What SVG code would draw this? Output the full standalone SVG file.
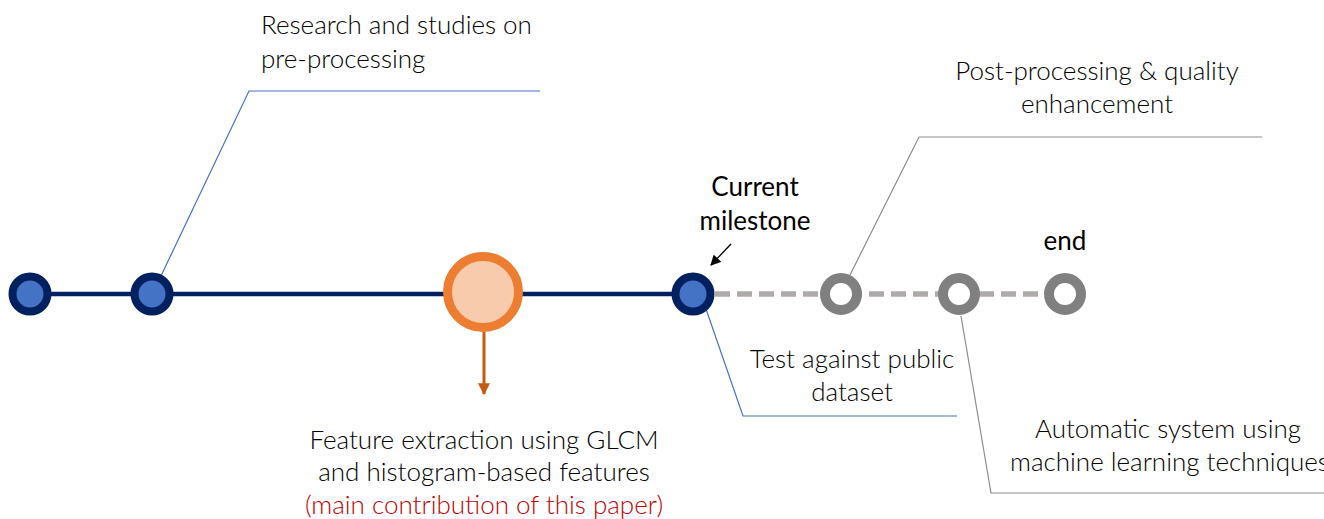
<svg xmlns="http://www.w3.org/2000/svg" width="1324" height="519" viewBox="0 0 1324 519">
<style>
text{font-family:Lato,"Open Sans","Liberation Sans",sans-serif;font-size:26px;fill:#000;font-weight:300}
.reg{font-weight:400;fill:#000}
.c{text-anchor:middle}
.red{fill:#C00000}
.done{fill:#4472C4;stroke:#002060;stroke-width:8}
.todo{fill:#fff;stroke:#808080;stroke-width:10}
.blue{fill:none;stroke:#4472C4;stroke-width:1.2}
.gray{fill:none;stroke:#8C8C8C;stroke-width:1.2}
</style>
<defs>
<marker id="ah" viewBox="0 0 10 10" refX="9" refY="5" markerWidth="4" markerHeight="4" orient="auto" markerUnits="strokeWidth"><path d="M0,0L10,5L0,10z" fill="#C55A11"/></marker>
<marker id="bk" viewBox="0 0 10 10" refX="9" refY="5" markerWidth="8" markerHeight="8" orient="auto" markerUnits="strokeWidth"><path d="M0,0L10,5L0,10z" fill="#000"/></marker>
</defs>
<g id="connectors">
<line x1="30" y1="294" x2="693" y2="294" stroke="#002060" stroke-width="4.5"/>
<line x1="693" y1="294" x2="1065" y2="294" stroke="#AEAAAA" stroke-width="5.5" stroke-dasharray="15 7"/>
<polyline class="blue" points="160,278 249,91 540,91"/>
<polyline class="gray" points="850,275 919,137 1262,137"/>
<polyline class="blue" points="706,309 743,416 957,416"/>
<polyline class="gray" points="961,316 991,493 1324,493"/>
<line x1="484" y1="332" x2="484" y2="394" stroke="#C55A11" stroke-width="3" marker-end="url(#ah)"/>
<line x1="731" y1="244" x2="711" y2="265" stroke="#000" stroke-width="1.3" marker-end="url(#bk)"/>
</g>
<g id="n1"><circle class="done" cx="30" cy="294" r="17.5"/></g>
<g id="n2"><circle class="done" cx="152" cy="294" r="17.5"/>
<text x="261" y="34">Research and studies on</text><text x="261" y="68">pre-processing</text></g>
<g id="n3"><circle cx="483" cy="292" r="35.5" fill="#F8CBAD" stroke="#ED7D31" stroke-width="9"/>
<text class="c" x="484" y="449">Feature extraction using GLCM</text>
<text class="c" x="484" y="481">and histogram-based features</text>
<text class="c red" x="484" y="514">(main contribution of this paper)</text></g>
<g id="n4"><circle class="done" cx="693" cy="294" r="17.5"/>
<text class="c reg" x="755" y="196">Current</text><text class="c reg" x="755" y="230">milestone</text>
<text class="c" x="852" y="368">Test against public</text><text class="c" x="852" y="401">dataset</text></g>
<g id="n5"><circle class="todo" cx="841" cy="294" r="16"/>
<text class="c" x="1097" y="80">Post-processing &amp; quality</text><text class="c" x="1097" y="113">enhancement</text></g>
<g id="n6"><circle class="todo" cx="959" cy="294" r="16"/>
<text class="c" x="1168" y="438">Automatic system using</text><text x="1010" y="471">machine learning techniques</text></g>
<g id="n7"><circle class="todo" cx="1065" cy="294" r="16"/>
<text class="c reg" x="1065" y="250">end</text></g>
</svg>
